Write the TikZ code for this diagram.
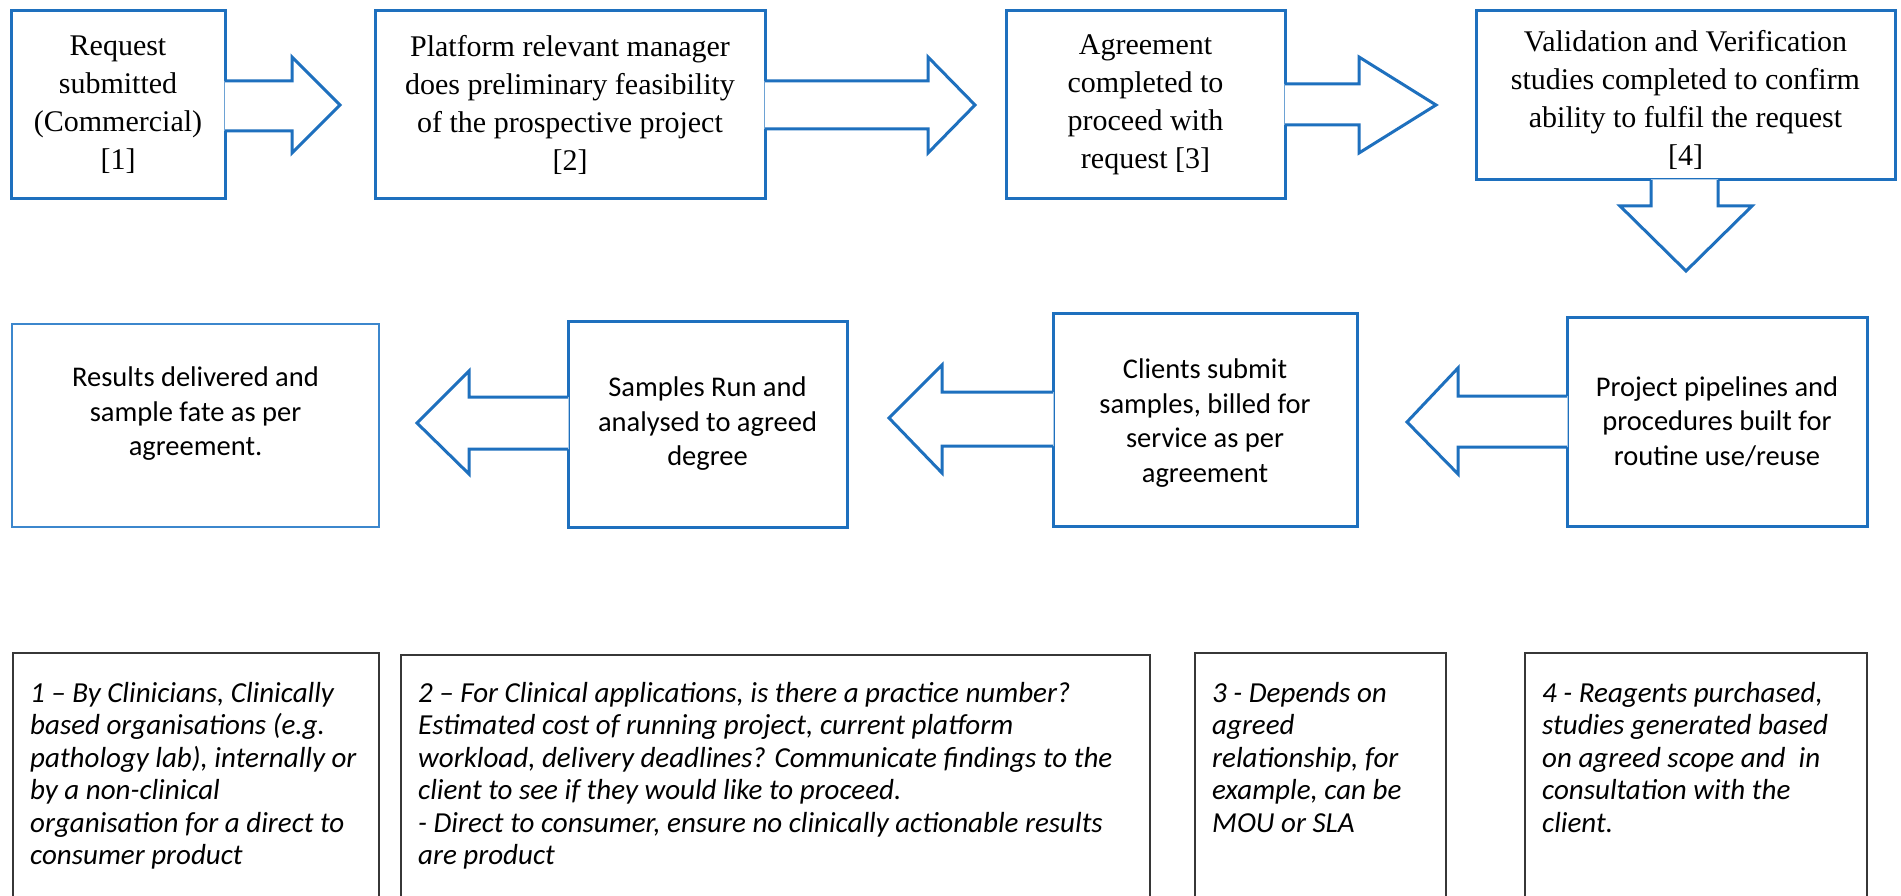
\documentclass[tikz,border=0pt]{standalone}
\usepackage{fontspec}
\setmainfont{Liberation Serif}
\newfontfamily\calibrifont{Carlito}
\usetikzlibrary{calc}
\definecolor{boxblue}{RGB}{30,112,190}
\definecolor{lightblue}{RGB}{60,135,205}
\definecolor{notegray}{RGB}{55,55,55}

\begin{document}
\begin{tikzpicture}[x=1pt,y=-1pt,
  bluebox/.style={draw=boxblue, line width=3pt, inner sep=0pt, rectangle},
  thinbox/.style={draw=lightblue, line width=1.6pt, inner sep=0pt, rectangle},
  notebox/.style={draw=notegray, line width=1.5pt, inner sep=0pt, rectangle, anchor=north west},
  blockline/.style={draw=boxblue, line width=3pt, line join=miter},
  seriftext/.style={align=center, inner sep=0pt, font=\fontsize{30}{38}\selectfont},
  caltext/.style={align=center, inner sep=0pt, font=\calibrifont\fontsize{28.5}{34.5}\selectfont},
  notetext/.style={align=left, inner sep=0pt, anchor=north west, font=\calibrifont\itshape\fontsize{29}{32.5}\selectfont},
]
\useasboundingbox (0,0) rectangle (1901,896);
\fill[white] (0,0) rectangle (1901,896);

% ---------- first row: request to validation ----------
\node[bluebox, minimum width=214, minimum height=188] (b1) at (118,105) {};
\node[bluebox, minimum width=390, minimum height=188] (b2) at (570,105) {};
\node[bluebox, minimum width=279, minimum height=188] (b3) at (1145.5,105) {};
\node[bluebox, minimum width=419, minimum height=169] (b4) at (1685.5,95.5) {};

\node[seriftext] (t1) at (b1.center) {Request\\submitted\\(Commercial)\\{[1]}};
\node[seriftext] (t2) at (b2.center) {Platform relevant manager\\does preliminary feasibility\\of the prospective project\\{[2]}};
\node[seriftext] (t3) at (b3.center) {Agreement\\completed to\\proceed with\\request [3]};
\node[seriftext] (t4) at (1685.5,100) {Validation and Verification\\studies completed to confirm\\ability to fulfil the request\\{[4]}};

% block arrows of the first row (white body hides the box edge at the base)
\fill[white] ($(b1.east |- 0,81)+(-2,0)$) -- (292,81) -- (292,57) -- (340,105) -- (292,153) -- (292,131) -- ($(b1.east |- 0,131)+(-2,0)$) -- cycle;
\draw[blockline] ($(b1.east |- 0,81)+(-1.5,0)$) -- (292,81) -- (292,57) -- (340,105) -- (292,153) -- (292,131) -- ($(b1.east |- 0,131)+(-1.5,0)$);

\fill[white] ($(b2.east |- 0,81)+(-2,0)$) -- (928,81) -- (928,57) -- (975,105) -- (928,153) -- (928,129) -- ($(b2.east |- 0,129)+(-2,0)$) -- cycle;
\draw[blockline] ($(b2.east |- 0,81)+(-1.5,0)$) -- (928,81) -- (928,57) -- (975,105) -- (928,153) -- (928,129) -- ($(b2.east |- 0,129)+(-1.5,0)$);

\fill[white] ($(b3.east |- 0,84)+(-2,0)$) -- (1359,84) -- (1359,57) -- (1436,105) -- (1359,153) -- (1359,125) -- ($(b3.east |- 0,125)+(-2,0)$) -- cycle;
\draw[blockline] ($(b3.east |- 0,84)+(-1.5,0)$) -- (1359,84) -- (1359,57) -- (1436,105) -- (1359,153) -- (1359,125) -- ($(b3.east |- 0,125)+(-1.5,0)$);

% downward arrow below the validation box
\fill[white] ($(1651,0 |- b4.south)+(0,-2)$) -- (1651,206) -- (1620,206) -- (1686,271) -- (1752,206) -- (1718,206) -- ($(1718,0 |- b4.south)+(0,-2)$) -- cycle;
\draw[blockline] ($(1651,0 |- b4.south)+(0,-1.5)$) -- (1651,206) -- (1620,206) -- (1686,271) -- (1752,206) -- (1718,206) -- ($(1718,0 |- b4.south)+(0,-1.5)$);

% ---------- second row: pipelines back to results ----------
\node[thinbox, minimum width=367, minimum height=203] (b5) at (195.5,425.5) {};
\node[bluebox, minimum width=279, minimum height=206] (b6) at (707.5,424) {};
\node[bluebox, minimum width=304, minimum height=213] (b7) at (1205,419.5) {};
\node[bluebox, minimum width=300, minimum height=209] (b8) at (1717,421.5) {};

\node[caltext] (t5) at (195.5,414) {Results delivered and\\sample fate as per\\agreement.};
\node[caltext] (t6) at (b6.center) {Samples Run and\\analysed to agreed\\degree};
\node[caltext] (t7) at (1205,423) {Clients submit\\samples, billed for\\service as per\\agreement};
\node[caltext] (t8) at (b8.center) {Project pipelines and\\procedures built for\\routine use/reuse};

\fill[white] ($(b6.west |- 0,397)+(2,0)$) -- (469,397) -- (469,371) -- (417,423) -- (469,474) -- (469,449) -- ($(b6.west |- 0,449)+(2,0)$) -- cycle;
\draw[blockline] ($(b6.west |- 0,397)+(1.5,0)$) -- (469,397) -- (469,371) -- (417,423) -- (469,474) -- (469,449) -- ($(b6.west |- 0,449)+(1.5,0)$);

\fill[white] ($(b7.west |- 0,392)+(2,0)$) -- (942,392) -- (942,365) -- (889,418) -- (942,473) -- (942,446) -- ($(b7.west |- 0,446)+(2,0)$) -- cycle;
\draw[blockline] ($(b7.west |- 0,392)+(1.5,0)$) -- (942,392) -- (942,365) -- (889,418) -- (942,473) -- (942,446) -- ($(b7.west |- 0,446)+(1.5,0)$);

\fill[white] ($(b8.west |- 0,396)+(2,0)$) -- (1458,396) -- (1458,368) -- (1407,422) -- (1458,474) -- (1458,447) -- ($(b8.west |- 0,447)+(2,0)$) -- cycle;
\draw[blockline] ($(b8.west |- 0,396)+(1.5,0)$) -- (1458,396) -- (1458,368) -- (1407,422) -- (1458,474) -- (1458,447) -- ($(b8.west |- 0,447)+(1.5,0)$);

% ---------- footnotes, running off the lower edge ----------
\begin{scope}
\clip (0,0) rectangle (1901,896);
\node[notebox, minimum width=366, minimum height=300] (n1) at (12,652) {};
\node[notebox, minimum width=749, minimum height=300] (n2) at (400,654) {};
\node[notebox, minimum width=251, minimum height=300] (n3) at (1194,652) {};
\node[notebox, minimum width=342, minimum height=300] (n4) at (1524,652) {};
\end{scope}

\node[notetext] (m1) at ($(n1.north west)+(18,30)$) {1 – By Clinicians, Clinically\\based organisations (e.g.\\pathology lab), internally or\\by a non-clinical\\organisation for a direct to\\consumer product};
\node[notetext] (m2) at ($(n2.north west)+(18,28)$) {2 – For Clinical applications, is there a practice number?\\Estimated cost of running project, current platform\\workload, delivery deadlines? Communicate findings to the\\client to see if they would like to proceed.\\- Direct to consumer, ensure no clinically actionable results\\are product};
\node[notetext] (m3) at ($(n3.north west)+(18,30)$) {3 - Depends on\\agreed\\relationship, for\\example, can be\\MOU or SLA};
\node[notetext] (m4) at ($(n4.north west)+(18,30)$) {4 - Reagents purchased,\\studies generated based\\on agreed scope and\ \ in\\consultation with the\\client.};
\end{tikzpicture}
\end{document}
